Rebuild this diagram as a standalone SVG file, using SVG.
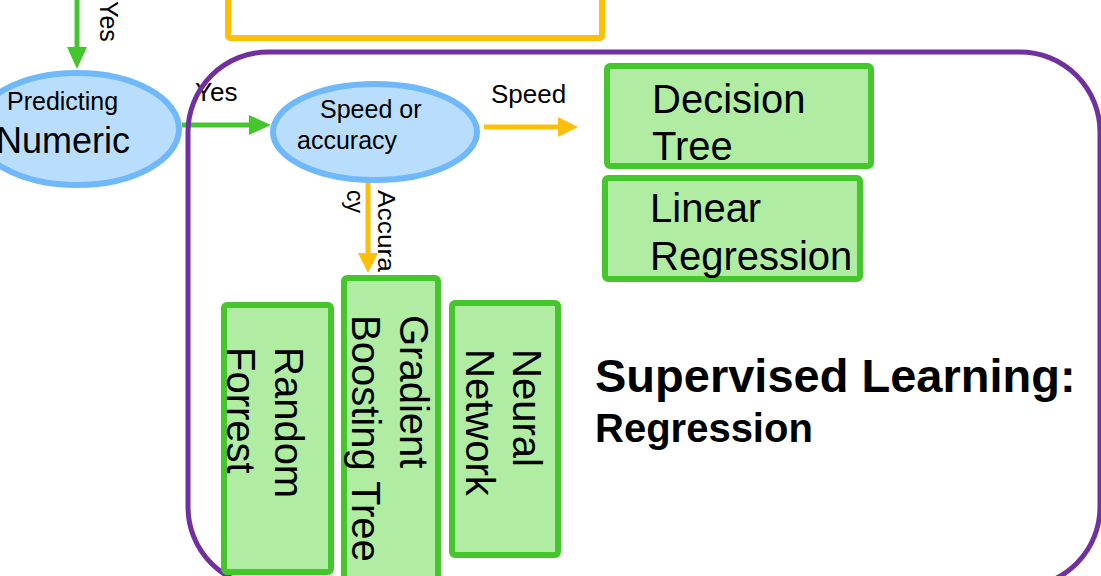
<svg xmlns="http://www.w3.org/2000/svg" width="1101" height="576" viewBox="0 0 1101 576">
  <style>
    .t { font-family: "Liberation Sans", Arial, sans-serif; fill: #000; }
    .b { font-weight: bold; }
    .box { fill: #b0eda2; stroke: #44c62c; stroke-width: 6; }
    .ell { fill: #b9ddfd; stroke: #6fb9fb; stroke-width: 6; }
    .cg { stroke: #44c62c; stroke-width: 5; fill: none; }
    .co { stroke: #fdbf0a; stroke-width: 5; fill: none; }
  </style>
  <defs>
    <marker id="ag" markerUnits="userSpaceOnUse" markerWidth="22" markerHeight="22" refX="4" refY="11" orient="auto">
      <path d="M0,1 L22,11 L0,21 z" fill="#44c62c"/>
    </marker>
    <marker id="ao" markerUnits="userSpaceOnUse" markerWidth="22" markerHeight="22" refX="4" refY="11" orient="auto">
      <path d="M0,1 L20,11 L0,21 z" fill="#fdbf0a"/>
    </marker>
  </defs>
  <rect width="1101" height="576" fill="#ffffff"/>

  <g id="top-box">
    <rect x="228" y="-40" width="374" height="78" fill="none" stroke="#fdbf0a" stroke-width="6" rx="2"/>
  </g>

  <g id="connectors">
    <line class="cg" x1="77" y1="-5" x2="77" y2="51" marker-end="url(#ag)"/>
    <text class="t" font-size="25" transform="translate(100,1) rotate(90)">Yes</text>
    <line class="cg" x1="182" y1="125" x2="253" y2="125" marker-end="url(#ag)"/>
    <text class="t" font-size="26" x="195" y="101">Yes</text>
    <line class="co" x1="484" y1="127" x2="562" y2="127" marker-end="url(#ao)"/>
    <text class="t" font-size="26" x="491" y="103">Speed</text>
    <line class="co" x1="368" y1="182" x2="368" y2="257" marker-end="url(#ao)"/>
    <text class="t" font-size="23" transform="translate(378,190) rotate(90)"><tspan x="0" y="0" textLength="82" lengthAdjust="spacingAndGlyphs">Accura</tspan><tspan x="0" y="31">cy</tspan></text>
  </g>

  <g id="group-supervised-regression">
    <rect x="188" y="52" width="912" height="535" rx="80" ry="80" fill="none" stroke="#7030a0" stroke-width="5"/>
    <text class="t b" font-size="47" x="595" y="392">Supervised Learning:</text>
    <text class="t b" font-size="40" x="595" y="442">Regression</text>
  </g>

  <g id="node-predicting-numeric">
    <ellipse class="ell" cx="77" cy="129" rx="102" ry="56"/>
    <text class="t" font-size="25" x="7" y="110">Predicting</text>
    <text class="t" font-size="36" x="-4" y="153">Numeric</text>
  </g>

  <g id="node-speed-or-accuracy">
    <ellipse class="ell" cx="375" cy="132" rx="102" ry="48"/>
    <text class="t" font-size="25" x="320" y="118">Speed or</text>
    <text class="t" font-size="25" x="297" y="149">accuracy</text>
  </g>

  <g id="node-decision-tree">
    <rect class="box" x="607" y="66" width="264" height="100" rx="3"/>
    <text class="t" font-size="40" x="652" y="113">Decision</text>
    <text class="t" font-size="40" x="652" y="160">Tree</text>
  </g>

  <g id="node-linear-regression">
    <rect class="box" x="605" y="178" width="255" height="101" rx="3"/>
    <text class="t" font-size="40" x="650" y="222">Linear</text>
    <text class="t" font-size="40" x="650" y="270">Regression</text>
  </g>

  <g id="node-random-forrest">
    <rect class="box" x="224" y="305" width="107" height="267" rx="3"/>
    <text class="t" font-size="40" transform="translate(275,347) rotate(90)"><tspan x="0" y="0">Random</tspan><tspan x="0" y="48">Forrest</tspan></text>
  </g>

  <g id="node-gradient-boosting-tree">
    <rect class="box" x="344" y="278" width="94" height="320" rx="3"/>
    <text class="t" font-size="40" transform="translate(400,315) rotate(90)"><tspan x="0" y="0">Gradient</tspan><tspan x="0" y="48">Boosting Tree</tspan></text>
  </g>

  <g id="node-neural-network">
    <rect class="box" x="452" y="303" width="106" height="252" rx="3"/>
    <text class="t" font-size="40" transform="translate(513,349) rotate(90)"><tspan x="0" y="0">Neural</tspan><tspan x="0" y="47">Network</tspan></text>
  </g>
</svg>
